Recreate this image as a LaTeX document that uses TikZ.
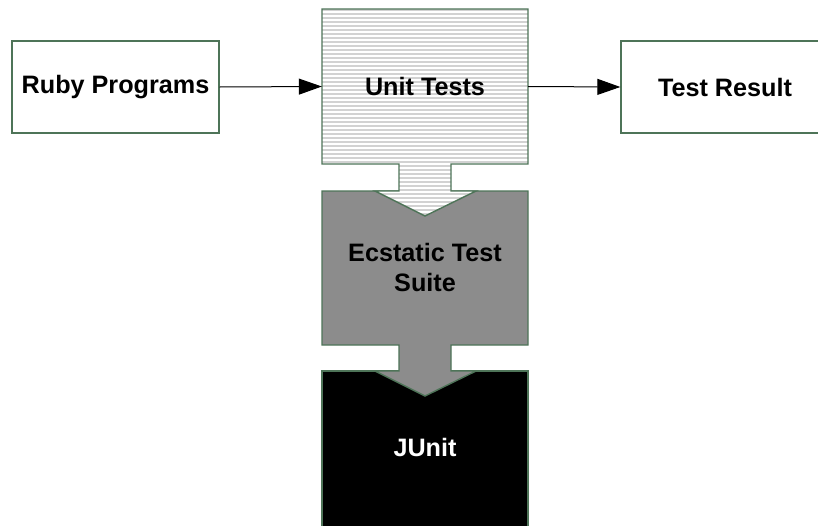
\documentclass[tikz,border=0pt]{standalone}
\usepackage{fontspec}
\setmainfont{Liberation Sans}
\usetikzlibrary{arrows.meta}
\definecolor{bord}{RGB}{78,116,88}
\definecolor{stripe}{RGB}{210,210,210}
\definecolor{midgray}{RGB}{140,140,140}
\tikzset{
  boxline/.style={draw=bord, line width=1.4pt},
  lbl/.style={font=\fontsize{25.2}{30}\selectfont\bfseries, inner sep=0pt, align=center},
  plainbox/.style={boxline, fill=white, lbl},
  conn/.style={draw=black, line width=1pt, -{Triangle[length=23pt,width=16pt]}}
}
\begin{document}
\begin{tikzpicture}[x=1pt,y=-1pt]
\useasboundingbox (0,0) rectangle (818,525);
\fill[white] (0,0) rectangle (818,525);
\clip (0,0) rectangle (818,525);
% JUnit
\fill[black] (322,371) rectangle (528,540);
\draw[boxline] (322,540) -- (322,371) -- (528,371) -- (528,540);
\node[lbl, text=white, minimum width=206pt, minimum height=154pt] (junit) at (425,447) {JUnit};
% Ecstatic Test Suite
\path[boxline, fill=midgray] (322,191) -- (528,191) -- (528,345) -- (451,345) -- (451,371) -- (476,371) -- (425,396) -- (375,371) -- (399,371) -- (399,345) -- (322,345) -- cycle;
\node[lbl, minimum width=206pt, minimum height=154pt] (suite) at (425,267) {Ecstatic Test\\Suite};
% Unit Tests
\fill[white] (322,9) -- (528,9) -- (528,164) -- (451,164) -- (451,191) -- (476,191) -- (425,216) -- (375,191) -- (399,191) -- (399,164) -- (322,164) -- cycle;
\begin{scope}
\clip (322,9) -- (528,9) -- (528,164) -- (451,164) -- (451,191) -- (476,191) -- (425,216) -- (375,191) -- (399,191) -- (399,164) -- (322,164) -- cycle;
\foreach \yy in {10,14,...,218} {\draw[stripe, line width=2pt] (320,\yy) -- (530,\yy);}
\end{scope}
\draw[boxline] (322,9) -- (528,9) -- (528,164) -- (451,164) -- (451,191) -- (476,191) -- (425,216) -- (375,191) -- (399,191) -- (399,164) -- (322,164) -- cycle;
\node[lbl, minimum width=206pt, minimum height=155pt] (unit) at (425,86.5) {Unit Tests};
% Side boxes
\node[plainbox, minimum width=207pt, minimum height=92pt] (ruby) at (115.5,87) {Ruby Programs};
\node[plainbox, minimum width=208pt, minimum height=92pt] (result) at (725,87) {Test Result};
% Connectors
\draw[conn] (ruby.east) -- (unit.west);
\draw[conn] (unit.east) -- (result.west);
\end{tikzpicture}
\end{document}
